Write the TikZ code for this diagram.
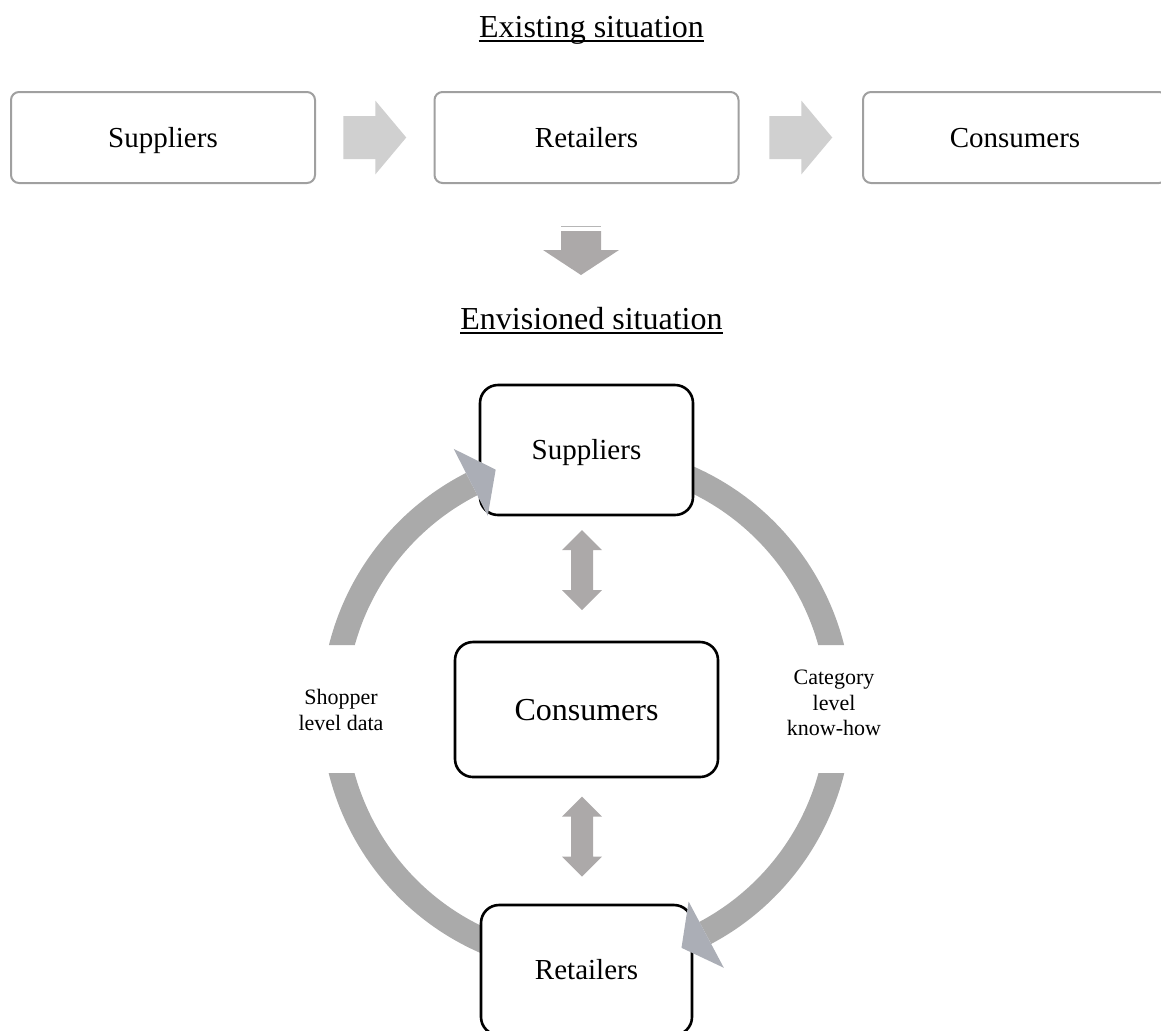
\documentclass[tikz,border=0pt]{standalone}
\usepackage{fontspec}
\setmainfont{Liberation Serif}
\usetikzlibrary{calc}

\definecolor{topedge}{RGB}{160,160,160}
\definecolor{flowgray}{RGB}{208,208,208}
\definecolor{downgray}{RGB}{172,169,169}
\definecolor{ringgray}{RGB}{170,170,170}
\definecolor{headgray}{RGB}{171,174,182}
\definecolor{dblgray}{RGB}{172,169,169}
\definecolor{faintline}{RGB}{182,182,182}

\tikzset{
  flowbox/.style={draw=topedge, line width=1pt, rounded corners=4pt, fill=white,
    minimum width=152pt, minimum height=45.5pt, inner sep=0pt,
    font=\fontsize{14.5}{17}\selectfont, text height=13pt, text depth=3.5pt},
  cyclebox/.style={draw=black, line width=1.3pt, rounded corners=9pt, fill=white,
    inner sep=0pt, font=\fontsize{14.5}{17}\selectfont, text height=13pt, text depth=3.5pt},
  heading/.style={inner sep=0pt, anchor=base, font=\fontsize{16}{19}\selectfont},
  sidelabel/.style={inner sep=0pt, align=center, font=\fontsize{11}{12.6}\selectfont},
  ring/.style={draw=ringgray, line width=12.5pt},
  flowarrow/.pic={\fill[flowgray] (-31.5,-21.5) -- (0.5,-21.5) -- (0.5,-37) -- (31.5,0)
      -- (0.5,37) -- (0.5,21.5) -- (-31.5,21.5) -- cycle;},
  downarrow/.pic={
    \draw[faintline, line width=0.5pt] (-20,-24) -- (20,-24);
    \fill[downgray] (-20,-19) -- (20,-19) -- (20,0) -- (38,0) -- (0,25) -- (-38,0)
      -- (-20,0) -- cycle;},
  dblarrow/.pic={\fill[dblgray] (0,-40) -- (20,-20) -- (11,-20) -- (11,20) -- (20,20)
      -- (0,40) -- (-20,20) -- (-11,20) -- (-11,-20) -- (-20,-20) -- cycle;}
}

\begin{document}
\begin{tikzpicture}[x=0.5pt, y=-0.5pt]
\useasboundingbox (0,0) rectangle (1161,1030);

% ---- existing situation: a linear chain ----
\node[heading] (exhead) at (591.5,37) {Existing situation};
\draw[line width=0.75pt] ([yshift=-2pt]exhead.base west) -- ([yshift=-2pt]exhead.base east);

\node[flowbox] (tsup) at (163,137.5) {Suppliers};
\node[flowbox] (tret) at (586.5,137.5) {Retailers};
\node[flowbox] (tcon) at (1015,137.5) {Consumers};

\pic at ($(tsup.east)!0.5!(tret.west)$) {flowarrow};
\pic at ($(tret.east)!0.5!(tcon.west)$) {flowarrow};

% transition to the new situation
\pic at (581,250) {downarrow};

% ---- envisioned situation: a cycle ----
\node[heading] (envhead) at (591.5,329) {Envisioned situation};
\draw[line width=0.75pt] ([yshift=-2pt]envhead.base west) -- ([yshift=-2pt]envhead.base east);

\coordinate (hub) at (586.5,709.5);

% circular flow, opened where the side labels sit
\begin{scope}[even odd rule]
  \clip (0,0) rectangle (1161,1030)
        (300,645) rectangle (400,773) (780,645) rectangle (880,773);
  \draw[ring] (hub) ++(105:253) arc[start angle=105, end angle=243, radius=253];
  \draw[ring] (hub) ++(-75:253) arc[start angle=-75, end angle=62, radius=253];
\end{scope}

\node[cyclebox, minimum width=106.5pt, minimum height=65pt] (esup) at (586.5,450) {Suppliers};
\node[cyclebox, minimum width=131.5pt, minimum height=67.5pt,
      font=\fontsize{16}{19}\selectfont, text height=14.4pt, text depth=3.8pt] (econ) at (hub) {Consumers};
\node[cyclebox, minimum width=105.5pt, minimum height=65pt] (eret) at (586.5,970) {Retailers};

% arrow heads closing the two arcs
\fill[headgray] ($(hub)+(243:217.5)$) -- ($(hub)+(243:292.5)$) -- ($(hub)+(243:255)+(333:28)$) -- cycle;
\fill[headgray] ($(hub)+(62:217.5)$) -- ($(hub)+(62:292.5)$) -- ($(hub)+(62:255)+(152:28)$) -- cycle;

% two-way exchange with the consumer
\pic at (582,570) {dblarrow};
\pic at (582,836.5) {dblarrow};

\node[sidelabel] (shop) at (341,710) {Shopper\\level data};
\node[sidelabel] (cat) at (834,703) {Category\\level\\know-how};
\end{tikzpicture}
\end{document}
